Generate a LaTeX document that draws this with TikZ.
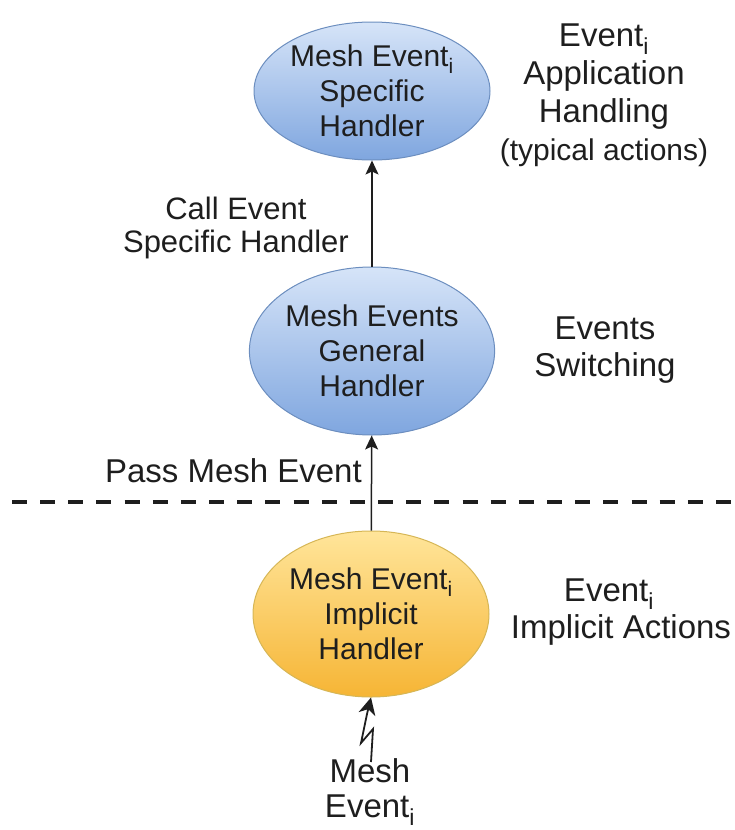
\documentclass[tikz,border=0pt]{standalone}
\usepackage{fontspec}
\setmainfont{Liberation Sans}
\usetikzlibrary{shapes.geometric,arrows.meta}
\definecolor{bluetop}{HTML}{D6E4F8}
\definecolor{bluebot}{HTML}{7FA6DF}
\definecolor{blueline}{HTML}{6C8EBF}
\definecolor{yeltop}{HTML}{FFE59A}
\definecolor{yelbot}{HTML}{F6B535}
\definecolor{yelline}{HTML}{D6B656}
\definecolor{ink}{HTML}{1E1E1E}

\begin{document}
\begin{tikzpicture}[x=1pt,y=-1pt,
  handler/.style={ellipse, line width=1pt, minimum width=236pt, inner sep=0pt,
    align=center, text=ink, font=\fontsize{30}{35}\selectfont},
  bluehandler/.style={handler, draw=blueline, top color=bluetop, bottom color=bluebot},
  yelhandler/.style={handler, draw=yelline, top color=yeltop, bottom color=yelbot},
  flow/.style={draw=ink, line width=1.5pt, -{Stealth[length=14pt,width=13pt,inset=3pt]}},
  sidelabel/.style={align=center, text=ink, inner sep=0pt, font=\fontsize{33}{37}\selectfont},
  edgelabel/.style={align=center, text=ink, inner sep=0pt, font=\fontsize{31}{33}\selectfont},
  boundary/.style={draw=ink, line width=4.5pt, dash pattern=on 15pt off 13.16pt}
]
\useasboundingbox (0,0) rectangle (735,830);

% handlers
\node[bluehandler, minimum height=138pt] (spec) at (372,91)
  {Mesh Event\textsubscript{i}\\Specific\\Handler};
\node[bluehandler, minimum height=168pt] (gen) at (372,351)
  {Mesh Events\\General\\Handler};
\node[yelhandler, minimum height=166pt] (impl) at (371,614)
  {Mesh Event\textsubscript{i}\\Implicit\\Handler};

% right-hand descriptions
\node[sidelabel, font=\fontsize{33}{38}\selectfont] (apph) at (604,95)
  {Event\textsubscript{i}\\Application\\Handling\\{\fontsize{30}{36}\selectfont(typical actions)}};
\node[sidelabel] (sw) at (605,350) {Events\\Switching};
\node[sidelabel] (impa) at (621,612) {Event\textsubscript{i}\hspace*{24pt}\\Implicit Actions};

% connectors
\draw[flow] (gen) -- (spec);
\draw[flow] (impl) -- (gen);
\node[edgelabel, anchor=east] (call) at (349,228) {Call Event\\Specific Handler};
\node[edgelabel, anchor=east, font=\fontsize{33}{35}\selectfont] (pass) at (362,471) {Pass Mesh Event};

% layer boundary
\coordinate (bl) at (12,502);
\coordinate (br) at (731,502);
\draw[boundary] (bl) -- (br);

% incoming event with lightning connector
\node[sidelabel, font=\fontsize{33}{35}\selectfont] (mev) at (370,792)
  {Mesh\\Event\textsubscript{i}};
\coordinate (z0) at (371,762);
\coordinate (z1) at (373,729);
\coordinate (z2) at (361,743);
\coordinate (z3) at (367,714);
\draw[draw=ink, line width=1.8pt, -{Stealth[length=17pt,width=17pt,inset=5pt]}]
  (z0) -- (z1) -- (z2) -- (z3) -- (impl.south);
\end{tikzpicture}
\end{document}
